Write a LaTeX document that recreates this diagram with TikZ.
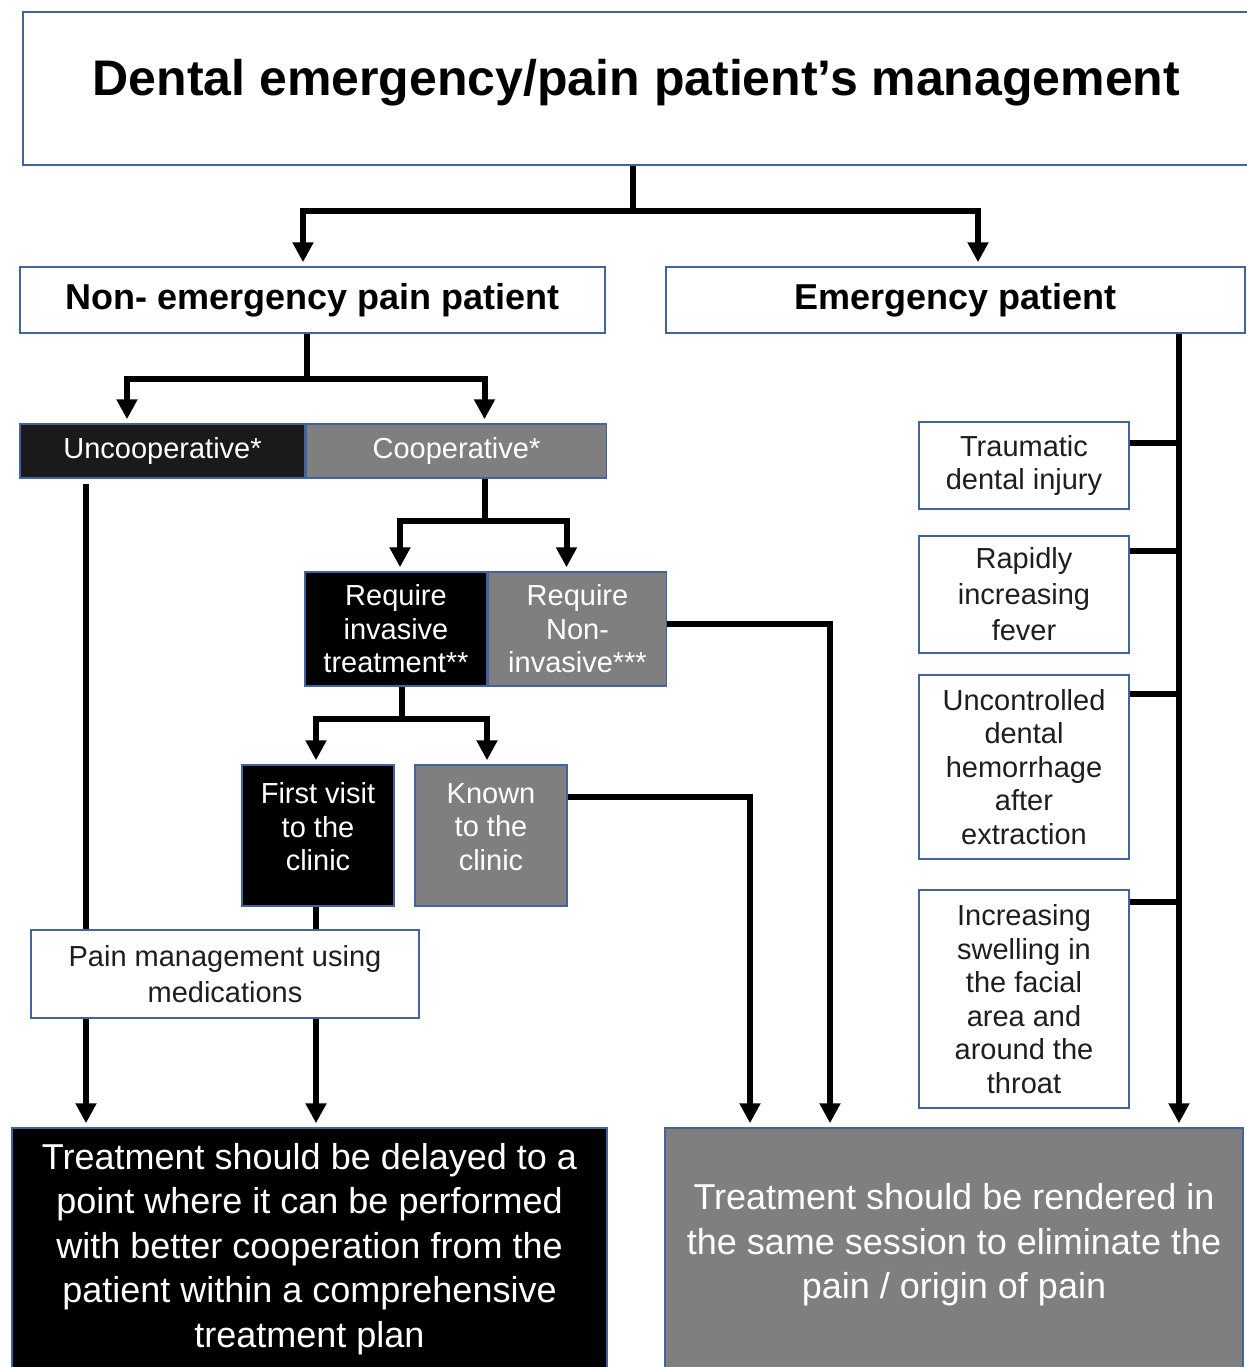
\documentclass[tikz,border=0pt]{standalone}
\usepackage{fontspec}
\setmainfont{Liberation Sans}
\usepackage{xcolor}
\usetikzlibrary{arrows.meta,positioning}

\definecolor{boxline}{HTML}{41649E}
\definecolor{nearblack}{HTML}{1A1A1A}
\definecolor{midgray}{HTML}{7F7F7F}
\definecolor{txtgray}{HTML}{1E1E1E}

\begin{document}
\begin{tikzpicture}[x=0.5pt, y=-0.5pt,
    box/.style={draw=boxline, line width=0.75pt, inner sep=0pt, align=center},
    whitebox/.style={box, fill=white, text=txtgray},
    blackbox/.style={box, fill=black, text=white},
    graybox/.style={box, fill=midgray, text=white},
    small/.style={font=\fontsize{14.5}{16.75}\selectfont},
    big/.style={font=\fontsize{18}{22.25}\selectfont},
    line/.style={line width=3pt},
    arr/.style={line, -{Triangle[width=10pt,length=10pt]}, shorten >=2pt}]

   \path[use as bounding box, fill=white] (0,0) rectangle (1247,1367);

   % top of the tree
   \node[whitebox, text=black, font=\fontsize{25}{30}\selectfont\bfseries, minimum width=613.5pt, minimum height=76.5pt, text height=18pt, text depth=11.5pt] (title) at (636.5,88.5) {Dental emergency/pain patient’s management};
   \node[whitebox, text=black, font=\fontsize{18}{22}\selectfont\bfseries, minimum width=292.5pt, minimum height=33pt] (nonemerg) at (312.5,300) {Non- emergency pain patient};
   \node[whitebox, text=black, font=\fontsize{18}{22}\selectfont\bfseries, minimum width=289.5pt, minimum height=33pt] (emerg) at (955.5,300) {Emergency patient};

   % non-emergency branch
   \node[box, fill=nearblack, text=white, small, minimum width=142.5pt, minimum height=27pt] (uncoop) at (162.5,451) {Uncooperative*};
   \node[graybox, small, minimum width=150pt, minimum height=27pt, right=0pt of uncoop] (coop) {Cooperative*};
   \node[blackbox, small, minimum width=91pt, minimum height=57pt] (invasive) at (396,629) {Require\\invasive\\treatment**};
   \node[graybox, small, minimum width=89pt, minimum height=57pt, right=0pt of invasive] (noninv) {Require\\Non-\\invasive***};
   \node[blackbox, small, minimum width=76pt, minimum height=70.5pt] (first) at (318,835.5) {First visit\\to the\\clinic\\[-8pt]};
   \node[graybox, small, minimum width=76pt, minimum height=70.5pt] (known) at (491,835.5) {Known\\to the\\clinic\\[-8pt]};

   % emergency criteria
   \node[whitebox, small, minimum width=105pt, minimum height=43.5pt] (trauma) at (1024,465.5) {Traumatic\\dental injury};
   \node[whitebox, font=\fontsize{14.5}{18}\selectfont, minimum width=105pt, minimum height=58.5pt] (fever) at (1024,594.5) {Rapidly\\increasing\\fever};
   \node[whitebox, small, minimum width=105pt, minimum height=92pt] (bleed) at (1024,767) {Uncontrolled\\dental\\hemorrhage\\after\\extraction};
   \node[whitebox, small, minimum width=105pt, minimum height=109pt] (swell) at (1024,999) {Increasing\\swelling in\\the facial\\area and\\around the\\throat};

   % outcomes
   \node[blackbox, big, minimum width=297.5pt, minimum height=121pt] (delayed) at (309.5,1249) {Treatment should be delayed to a\\point where it can be performed\\with better cooperation from the\\patient within a comprehensive\\treatment plan};
   \node[graybox, big, minimum width=289pt, minimum height=121pt] (rendered) at (954,1249) {Treatment should be rendered in\\the same session to eliminate the\\pain / origin of pain\\[-14.25pt]};

   % split points
   \coordinate (tsplit) at ([xshift=-1.75pt,yshift=-22.5pt]title.south);
   \coordinate (nsplit) at ([xshift=-2.75pt,yshift=-22.5pt]nonemerg.south);
   \coordinate (csplit) at ([xshift=14pt,yshift=-21pt]coop.south);
   \coordinate (isplit) at ([xshift=3pt,yshift=-16pt]invasive.south);
   \coordinate (espine) at ([xshift=111.75pt]emerg.south);

   % connectors
   \draw[line] (tsplit) -- (tsplit |- title.south);
   \draw[arr] (tsplit) -| ([xshift=-4.75pt]nonemerg.north);
   \draw[arr] (tsplit) -| ([xshift=11.25pt]emerg.north);

   \draw[line] (nsplit) -- (nsplit |- nonemerg.south);
   \draw[arr] (nsplit) -| ([xshift=-17.75pt]uncoop.north);
   \draw[arr] (nsplit) -| ([xshift=14pt]coop.north);

   \draw[line] (csplit) -- (csplit |- coop.south);
   \draw[arr] (csplit) -| ([xshift=2pt]invasive.north);
   \draw[arr] (csplit) -| ([xshift=-5.5pt]noninv.north);

   \draw[line] (isplit) -- (isplit |- invasive.south);
   \draw[arr] (isplit) -| ([xshift=-1pt]first.north);
   \draw[arr] (isplit) -| ([xshift=-2pt]known.north);

   \draw[arr] ([xshift=-38.25pt,yshift=-2.5pt]uncoop.south) -- ([xshift=-111.75pt]delayed.north);
   \draw[arr] ([xshift=-1pt]first.south) -- ([xshift=3.25pt]delayed.north);
   \draw[arr] ([yshift=2.5pt]noninv.east) -| ([xshift=-62pt]rendered.north);
   \draw[arr] ([yshift=19.25pt]known.east) -| ([xshift=-102pt]rendered.north);

   \draw[arr] (espine) -- (espine |- rendered.north);
   \draw[line] ([yshift=-11pt]trauma.north east) -- ++(24.5pt,0);
   \draw[line] ([yshift=-8pt]fever.north east) -- ++(24.5pt,0);
   \draw[line] ([yshift=-10pt]bleed.north east) -- ++(24.5pt,0);
   \draw[line] ([yshift=-6.5pt]swell.north east) -- ++(24.5pt,0);

   % drawn last so it sits over the two lines
   \node[whitebox, font=\fontsize{14.5}{18}\selectfont, minimum width=194pt, minimum height=44pt] (painmed) at (225,974) {Pain management using\\medications};

\end{tikzpicture}
\end{document}
